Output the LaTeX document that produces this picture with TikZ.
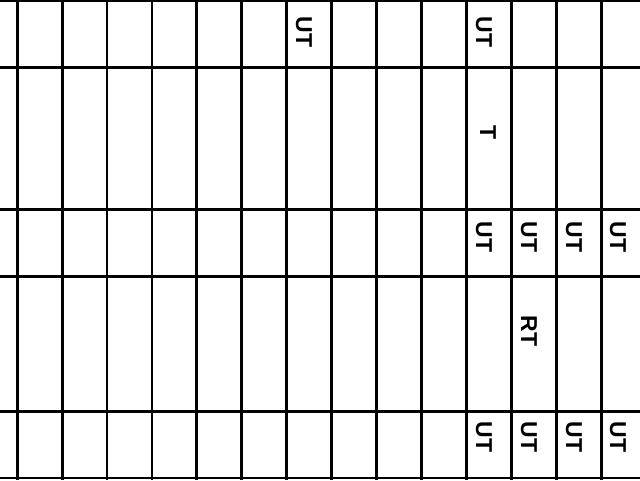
\documentclass[tikz,border=0pt]{standalone}
\usepackage{fontspec}
\setmainfont{Liberation Sans}
\begin{document}
\begin{tikzpicture}[x=1pt,y=-1pt,
  gridline/.style={line width=2.8pt,black},
  lbl/.style={font=\bfseries\fontsize{23}{23}\selectfont, rotate=-90, inner sep=0pt, anchor=center}]
\useasboundingbox (0,0) rectangle (640,480);
\fill[white] (0,0) rectangle (640,480);
% horizontal lines
\foreach \y in {0.5,67.5,209.5,276.5,411.5,478} {
  \draw[gridline] (0,\y) -- (640,\y);
}
% vertical lines
\foreach \k in {0,...,13} {
  \draw[gridline] ({17.2+44.92*\k},0) -- ({17.2+44.92*\k},480);
}
% labels
\node[lbl] (a1) at (304,32) {UT};
\node[lbl] (a2) at (484,32) {UT};
\node[lbl] (b1) at (488,133) {T};
\node[lbl] (c1) at (484,237) {UT};
\node[lbl] (c2) at (529,237) {UT};
\node[lbl] (c3) at (574,237) {UT};
\node[lbl] (c4) at (618,237) {UT};
\node[lbl] (d1) at (529,331) {RT};
\node[lbl] (e1) at (484,437) {UT};
\node[lbl] (e2) at (529,437) {UT};
\node[lbl] (e3) at (574,437) {UT};
\node[lbl] (e4) at (618,437) {UT};
\end{tikzpicture}
\end{document}
